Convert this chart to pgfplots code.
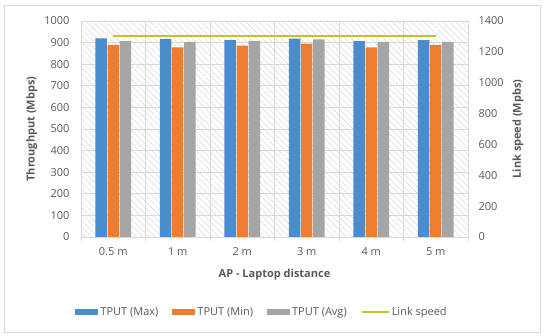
\documentclass[border=0pt]{standalone}
\usepackage{pgfplots}
\pgfplotsset{compat=1.18}
\usepackage{fontspec}
\setmainfont{Open Sans}
\usetikzlibrary{patterns.meta}
\definecolor{cmax}{RGB}{75,140,205}
\definecolor{cmin}{RGB}{237,125,49}
\definecolor{cavg}{RGB}{165,165,165}
\definecolor{clink}{RGB}{196,196,40}
\definecolor{gridc}{RGB}{217,217,217}
\definecolor{hatchc}{RGB}{215,215,215}
\definecolor{txt}{RGB}{89,89,89}
\begin{document}
\begin{tikzpicture}[x=1pt,y=1pt]
\path (-81,-99) rectangle (469,237);
\draw[color=gridc, line width=0.6pt] (-77,-95) rectangle (459,232);
\begin{axis}[
  at={(0,0)}, anchor=south west,
  scale only axis, width=387pt, height=216pt,
  ybar=0.7pt, bar width=11.4pt,
  xmin=-0.5, xmax=5.5, ymin=0, ymax=1000,
  xtick={0,...,5}, xticklabels={0.5 m,1 m,2 m,3 m,4 m,5 m},
  minor xtick={-0.5,0.5,...,5.5},
  ytick={0,100,...,1000},
  ymajorgrids, xminorgrids,
  grid style={color=gridc, line width=0.6pt},
  minor grid style={color=gridc, line width=0.6pt},
  axis line style={draw=none},
  major tick length=0pt, minor tick length=4pt, tick align=outside,
  xtick pos=lower, ytick pos=left,
  minor tick style={color=gridc, line width=0.6pt},
  axis background/.style={pattern={Lines[angle=-45,distance=4.5pt,line width=0.5pt]}, pattern color=hatchc},
  /pgf/number format/assume math mode=true,
  tick label style={font=\fontsize{11}{13}\selectfont, color=txt},
  yticklabel style={xshift=-8pt},
  xticklabel style={yshift=-7pt},
  /pgf/number format/.cd, 1000 sep={}, /pgfplots/.cd,
  ylabel={Throughput (Mbps)},
  xlabel={AP - Laptop distance},
  label style={font=\fontsize{11}{13}\selectfont\bfseries, color=txt},
  ylabel style={at={(axis description cs:-0.127,0.5)}, anchor=center},
  xlabel style={at={(axis description cs:0.5,-0.176)}, anchor=center},
  legend style={at={(axis description cs:0.468,-0.347)}, anchor=center, draw=none, fill=none,
    legend columns=4, font=\fontsize{11}{13}\selectfont, text=txt,
    /tikz/every even column/.append style={column sep=12pt}},
  legend cell align=left,
]
\addplot[fill=cmax, draw=none, legend image code/.code={\fill[cmax] (0pt,-3pt) rectangle (23pt,3pt);}]
  coordinates {(0,920) (1,917) (2,912) (3,918) (4,907) (5,912)};
\addplot[fill=cmin, draw=none, legend image code/.code={\fill[cmin] (0pt,-3pt) rectangle (23pt,3pt);}]
  coordinates {(0,889) (1,878) (2,886) (3,895) (4,878) (5,889)};
\addplot[fill=cavg, draw=none, legend image code/.code={\fill[cavg] (0pt,-3pt) rectangle (23pt,3pt);}]
  coordinates {(0,907) (1,903) (2,907) (3,915) (4,903) (5,903)};
\addlegendimage{legend image code/.code={\draw[clink, line width=2pt] (0pt,0pt) -- (27pt,0pt);}}
\legend{TPUT (Max), TPUT (Min), TPUT (Avg), Link speed}
\end{axis}
\begin{axis}[
  at={(0,0)}, anchor=south west,
  scale only axis, width=387pt, height=216pt,
  xmin=-0.5, xmax=5.5, ymin=0, ymax=1400,
  axis y line*=right, axis x line=none,
  ytick={0,200,...,1400},
  axis line style={draw=none},
  major tick length=0pt,
  /pgf/number format/assume math mode=true,
  /pgf/number format/.cd, 1000 sep={}, /pgfplots/.cd,
  tick label style={font=\fontsize{11}{13}\selectfont, color=txt},
  yticklabel style={xshift=7pt},
  ylabel={Link speed (Mpbs)},
  label style={font=\fontsize{11}{13}\selectfont\bfseries, color=txt},
  ylabel style={at={(axis description cs:1.129,0.5)}, anchor=center},
]
\addplot[clink, line width=2pt] coordinates {(0,1300) (5,1300)};
\end{axis}
\end{tikzpicture}
\end{document}
